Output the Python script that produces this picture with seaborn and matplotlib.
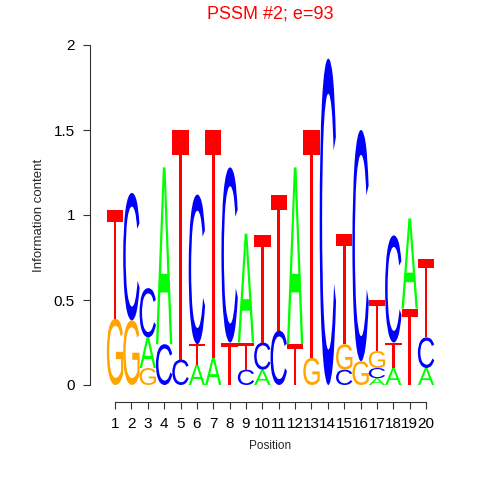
"""Sequence logo (information content per position) drawn with matplotlib/seaborn."""
import matplotlib

matplotlib.use("Agg")
import matplotlib.pyplot as plt  # noqa: E402
import seaborn as sns  # noqa: E402
from matplotlib.font_manager import FontProperties  # noqa: E402
from matplotlib.patches import PathPatch  # noqa: E402
from matplotlib.textpath import TextPath  # noqa: E402
from matplotlib.transforms import Affine2D  # noqa: E402

# bits per letter at each position
positions = list(range(1, 21))
A_bits = [0, 0, 0.18, 1.04, 0, 0.12, 0.16, 0, 0.64, 0.09,
          0, 1.04, 0, 0, 0, 0, 0.04, 0.10, 0.53, 0.10]
C_bits = [0, 0.75, 0.29, 0.24, 0.15, 0.88, 0, 1.03, 0.09, 0.16,
          0.32, 0, 0, 1.92, 0.09, 1.36, 0.06, 0.63, 0, 0.18]
G_bits = [0.39, 0.38, 0.10, 0, 0, 0, 0, 0, 0, 0,
          0, 0, 0.16, 0, 0.15, 0.14, 0.10, 0, 0, 0]
T_bits = [0.64, 0, 0, 0, 1.35, 0.12, 1.34, 0.25, 0.16, 0.63,
          0.80, 0.24, 1.34, 0, 0.65, 0, 0.30, 0.15, 0.45, 0.46]
y_ticks = [0, 0.5, 1, 1.5, 2]
y_ticklabels = ["0", "0.5", "1", "1.5", "2"]

colors = {"A": "#00FF00", "C": "#0000FF", "G": "#FFA500", "T": "#FF0000"}
FONT = FontProperties(family="Liberation Sans", weight="normal")

sns.set_theme(style="white")
plt.rcParams["font.family"] = ["Liberation Sans", "DejaVu Sans"]


def draw_letter(ax, letter, x, y, h, width=1.0):
    tp = TextPath((0, 0), letter, size=1, prop=FONT)
    bb = tp.get_extents()
    tr = (Affine2D()
          .translate(-bb.x0, -bb.y0)
          .scale(width / bb.width, h / bb.height)
          .translate(x - width / 2, y))
    ax.add_patch(PathPatch(tr.transform_path(tp), color=colors[letter], lw=0))


fig = plt.figure(figsize=(4.8, 4.8), dpi=100)
ax = fig.add_axes([105.2 / 480, 95 / 480, 330.7 / 480, 340 / 480])

for i, pos in enumerate(positions):
    col = {"A": A_bits[i], "C": C_bits[i], "G": G_bits[i], "T": T_bits[i]}
    y = 0.0
    for letter, h in sorted(col.items(), key=lambda kv: kv[1]):
        if h <= 0:
            continue
        draw_letter(ax, letter, pos, y, h)
        y += h

ax.set_xlim(0.4, 20.6)
ax.set_ylim(0, 2)
ax.set_xticks(positions)
ax.set_xticklabels([str(p) for p in positions], fontsize=8)
ax.set_yticks(y_ticks)
ax.set_yticklabels(y_ticklabels, fontsize=10)
ax.set_xlabel("Position", fontsize=8.5, labelpad=6)
ax.set_ylabel("Information content", fontsize=9.5, labelpad=6)
ax.set_title("PSSM #2; e=93", color="red", fontsize=13, pad=19)

sns.despine(ax=ax)
ax.spines["left"].set_position(("outward", 10.8))
ax.spines["bottom"].set_position(("outward", 12.2))
ax.spines["left"].set_bounds(0, 2)
ax.spines["bottom"].set_bounds(1, 20)
for s in ("left", "bottom"):
    ax.spines[s].set_color("#333333")
    ax.spines[s].set_linewidth(0.8)
ax.tick_params(axis="both", direction="out", length=5, width=0.8,
               color="#333333", labelcolor="black", left=True, bottom=True)
ax.tick_params(axis="x", pad=6)
ax.tick_params(axis="y", pad=6)
ax.grid(False)

fig.savefig("out.png", dpi=100)
